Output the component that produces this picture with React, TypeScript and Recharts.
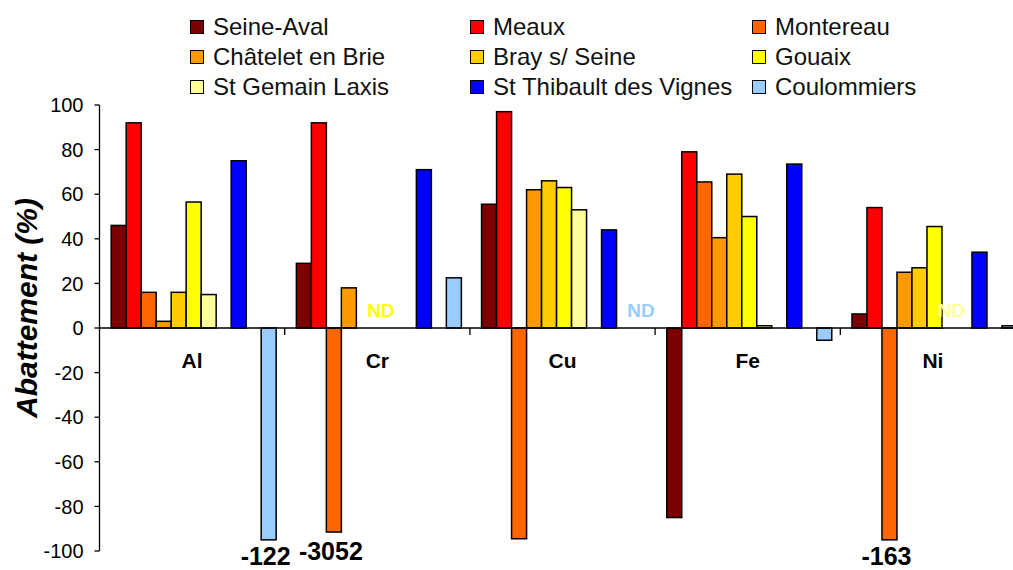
import { BarChart, Bar, XAxis, YAxis, ReferenceLine } from "recharts";

const categories = ["Al", "Cr", "Cu", "Fe", "Ni"];

const seineAval = [46, 29, 55.5, -85, 6.3];
const meaux = [92, 92, 97, 79, 54];
const montereau = [16, -91.5, -94.5, 65.5, -95];
const chateletEnBrie = [3, 18, 62, 40.5, 25];
const braySeine = [16, 0, 66, 69, 27];
const gouaix = [56.5, 0, 63, 50, 45.5];
const stGemainLaxis = [15, 0, 53, 1, 0];
const stThibault = [75, 71, 44, 73.5, 34];
const coulommiers = [-95, 22.5, 0, -5.5, 1];

// real value of bars that run off the scale, written under the bar
const montereauOffScale = [null, -3052, null, null, -163];
const coulommiersOffScale = [-122, null, null, null, null];

// ND = not determined
const gouaixND = [false, true, false, false, false];
const stGemainND = [false, false, false, false, true];
const coulommiersND = [false, false, true, false, false];

const yTicks = [-100, -80, -60, -40, -20, 0, 20, 40, 60, 80, 100];

const FONT = "'Liberation Sans', Arial, sans-serif";
const ZERO_Y = 328;

interface Series {
    key: string;
    name: string;
    color: string;
    values: number[] | null;
    nd?: boolean[];
    offScale?: (number | null)[];
}

const series: Series[] = [
    { key: "seineAval", name: "Seine-Aval", color: "#7d0000", values: seineAval },
    { key: "meaux", name: "Meaux", color: "#ff0000", values: meaux },
    { key: "montereau", name: "Montereau", color: "#ff6600", values: montereau, offScale: montereauOffScale },
    { key: "chatelet", name: "Châtelet en Brie", color: "#ff9900", values: chateletEnBrie },
    { key: "bray", name: "Bray s/ Seine", color: "#ffcc00", values: braySeine },
    { key: "gouaix", name: "Gouaix", color: "#ffff00", values: gouaix, nd: gouaixND },
    { key: "stGemain", name: "St Gemain Laxis", color: "#ffff99", values: stGemainLaxis, nd: stGemainND },
    { key: "blank1", name: "", color: "none", values: null },
    { key: "stThibault", name: "St Thibault des Vignes", color: "#0000ff", values: stThibault },
    { key: "blank2", name: "", color: "none", values: null },
    { key: "coulommiers", name: "Coulommiers", color: "#99ccff", values: coulommiers, nd: coulommiersND, offScale: coulommiersOffScale },
];

const legendOrder = [
    "seineAval", "meaux", "montereau",
    "chatelet", "bray", "gouaix",
    "stGemain", "stThibault", "coulommiers",
];

const data = categories.map((name, i) => {
    const row: Record<string, string | number> = { name };
    series.forEach((s) => {
        if (s.values) row[s.key] = s.values[i];
    });
    return row;
});

function makeShape(s: Series) {
    return (props: any) => {
        const { x, y, width, height, payload } = props;
        const i = categories.indexOf(payload?.name);
        const cx = x + width / 2;
        const bottom = Math.max(y, y + height);
        const top = Math.min(y, y + height);
        const h = Math.abs(height);
        const off = s.offScale ? s.offScale[i] : null;
        const nd = s.nd ? s.nd[i] : false;
        return (
            <g>
                {h > 0.01 && (
                    <rect x={x} y={top} width={width} height={h} fill={s.color} stroke="#000" strokeWidth={1.5} />
                )}
                {nd && (
                    <text x={cx + 2} y={ZERO_Y - 11} textAnchor="middle" fill={s.color} fontSize={19} fontWeight="bold" fontFamily={FONT}>
                        ND
                    </text>
                )}
                {off != null && (
                    <text x={cx - 3} y={Math.min(bottom + 28, 565)} textAnchor="middle" fill="#000" fontSize={25} fontWeight="bold" fontFamily={FONT}>
                        {off}
                    </text>
                )}
            </g>
        );
    };
}

// category name under the zero line, plus a small tick at the left edge of each category
const CategoryTick = (props: any) => {
    const { x, payload, index } = props;
    const half = payload?.offset ? payload.offset : 92.6;
    return (
        <g>
            {index > 0 && (
                <line x1={x - half} x2={x - half} y1={ZERO_Y} y2={ZERO_Y + 7} stroke="#000" strokeWidth={1.3} />
            )}
            <text x={x} y={ZERO_Y + 40} textAnchor="middle" fill="#000" fontSize={21} fontWeight="bold" fontFamily={FONT}>
                {payload.value}
            </text>
        </g>
    );
};

const YTitle = () => (
    <text
        x={26}
        y={308}
        transform="rotate(-90 26 308)"
        textAnchor="middle"
        dominantBaseline="central"
        fill="#000"
        fontSize={30}
        fontStyle="italic"
        fontWeight="bold"
        fontFamily={FONT}
    >
        Abattement (%)
    </text>
);

function Legend() {
    return (
        <div
            style={{
                position: "absolute",
                left: 190,
                top: 12,
                display: "grid",
                gridTemplateColumns: "280px 282px 260px",
                gridAutoRows: "30px",
                fontFamily: FONT,
                fontSize: 24,
                color: "#111",
            }}
        >
            {legendOrder.map((k) => {
                const s = series.find((x) => x.key === k)!;
                return (
                    <div key={k} style={{ display: "flex", alignItems: "center", whiteSpace: "nowrap" }}>
                        <span
                            style={{
                                display: "inline-block",
                                width: 14,
                                height: 14,
                                boxSizing: "border-box",
                                border: "1.5px solid #000",
                                background: s.color,
                                marginRight: 9,
                            }}
                        />
                        <span style={{ lineHeight: "30px" }}>{s.name}</span>
                    </div>
                );
            })}
        </div>
    );
}

export default function App() {
    return (
        <div
            style={{
                position: "absolute",
                left: 0,
                top: 0,
                width: 1013,
                height: 570,
                overflow: "hidden",
                background: "#fff",
            }}
        >
            <BarChart
                width={1040}
                height={570}
                data={data}
                margin={{ top: 105, right: 14.5, bottom: 0, left: 0 }}
                barCategoryGap="6.3%"
                barGap={0}
                style={{ fontFamily: FONT, overflow: "visible" }}
            >
                <XAxis
                    dataKey="name"
                    axisLine={false}
                    tickLine={false}
                    tick={<CategoryTick />}
                    interval={0}
                    height={19}
                />
                <YAxis
                    domain={[-100, 100]}
                    ticks={yTicks}
                    width={99.5}
                    tickSize={5}
                    tickMargin={11}
                    stroke="#000"
                    strokeWidth={1.3}
                    tick={{ fill: "#000", fontSize: 20, fontFamily: FONT }}
                    label={<YTitle />}
                />
                {series.map((s) => (
                    <Bar
                        key={s.key}
                        dataKey={s.key}
                        name={s.name}
                        fill={s.color}
                        shape={makeShape(s)}
                        isAnimationActive={false}
                    />
                ))}
                <ReferenceLine y={0} stroke="#000" strokeWidth={1.5} />
            </BarChart>
            <Legend />
        </div>
    );
}
